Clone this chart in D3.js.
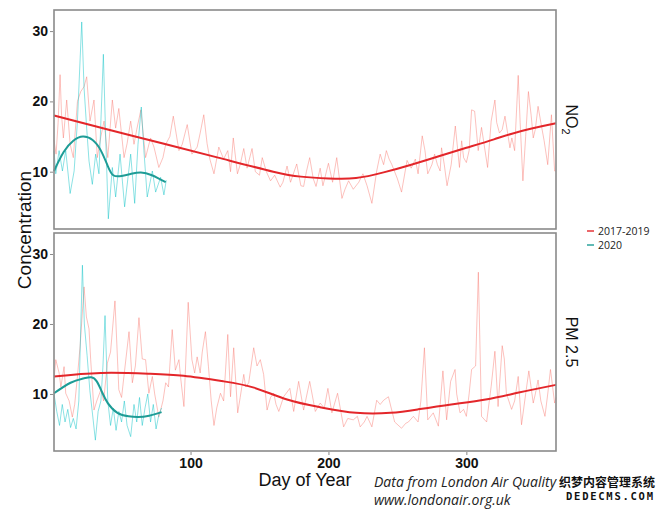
<!DOCTYPE html>
<html><head><meta charset="utf-8">
<script src="https://cdn.jsdelivr.net/npm/d3@7"></script>
<style>html,body{margin:0;padding:0;background:#fff;}svg{display:block;}</style>
</head><body>
<svg id="chart" width="666" height="509"></svg>
<script>
// ---------- DATA (day of year, concentration) ----------
const pollutants = ["NO2", "PM 2.5"];
const seriesNames = ["2017-2019", "2020"];
const xTicks = [100, 200, 300];
const yTicks = [10, 20, 30];

const no2Raw1719 = [[1,14.5],[2.5,12.5],[4,17],[5.4,23.8],[6.5,18],[7.8,14.8],[10.2,20.2],[12.7,13.9],[15,12.0],[18,20],[20.4,21.4],[22.8,22.1],[24.7,23.5],[27.1,17.2],[30,20.2],[32.4,12.0],[35,15],[37.3,17.2],[40,12],[43.3,20.2],[45.7,16.2],[48,19],[51.8,12.0],[54,14],[56.6,17.2],[59,13.9],[61,16],[64,18.8],[67.4,12],[71,14.8],[73.5,13.5],[77,10.6],[80,12],[82,13.9],[85,15],[87.5,17.9],[89.5,15.5],[91.6,13],[94,13.9],[97.6,16.7],[101,12.5],[104.8,13.5],[107,15.5],[109.6,18.1],[112,14],[114,11.8],[117,9.7],[120.5,13.5],[124,11.8],[127,13],[129,10],[131,14.8],[134,9.7],[136,11],[138.6,13.3],[141,10.5],[144.6,13.3],[147,10],[150,9.5],[152,12.0],[155,10],[158,8.7],[161,9.5],[165,7.8],[167,8.5],[170,10.8],[172.5,8.5],[177,11.1],[180,8],[182,7.9],[184,10],[186.4,12.0],[189,9],[191,7.9],[194,10.5],[196,8],[200,11.2],[203,8.5],[206,12.0],[209.8,6.2],[212,7.5],[214.6,8.7],[218,7.5],[222,8.5],[225,9.7],[228,8],[231.5,5.5],[235,10.1],[237.5,12.5],[240,11],[242,13.0],[244,11.8],[246,11.0],[250,9],[253,7.1],[257,11.6],[260,10.5],[263,11.8],[265,9.7],[268,15.1],[270,13],[272,9.7],[275,11],[277,12.5],[279,11],[281,10.1],[282,13.4],[284,11],[286,8.0],[289,11],[292,16.5],[295,10.6],[296.6,14.4],[298,12],[300,11.3],[302,13],[303.8,18.8],[306,18.6],[308.6,13.0],[311,16.3],[315.4,10.6],[318,17.2],[320.7,20.2],[322,17],[324,15.5],[326,16],[328,17.9],[331.6,13.4],[333,14.8],[335,13],[337.6,23.7],[339,17],[341,8.7],[343,15],[345,21.4],[347,18],[348.5,14.8],[350,16],[352,19.3],[354,17],[356.4,14.4],[359,11.0],[361.7,18.1],[364,10.1],[365,10.1]];

const no2Raw2020 = [[1,13],[2.3,9.7],[4.7,13],[7.1,10.1],[9.5,13],[12.7,6.9],[15.6,10.1],[18,17.2],[21.1,31.3],[22.8,21.9],[24.7,16.2],[26.4,11.5],[28.8,8.2],[31.2,12.5],[33.6,9.7],[36.8,26.7],[38.5,14.8],[40.4,3.3],[43.3,10.6],[45.7,6.4],[48.9,12.5],[52.2,5],[56.6,12.5],[59.5,5.5],[61.9,13.9],[64.3,19.2],[66.2,13],[68.6,6.4],[72.3,10.1],[74.7,7.1],[78.3,9.2],[80.7,6.7],[82.4,8.8]];

const pmRaw1719 = [[1,12],[2.3,14.9],[4.7,13],[6,11],[8.3,13.9],[9.5,10.1],[12,9],[14.3,6.7],[16,8.5],[18,12.5],[20,17],[22.8,25.3],[24.5,21],[26.4,19.3],[27.6,14.9],[30,7.7],[32,9],[35,10.6],[37,9.0],[39.7,14.4],[42,16],[45.2,23.3],[48,10.6],[50,9.5],[51.7,12.5],[55.4,18.9],[57.8,11.6],[60,14],[62.6,20.9],[65,15],[67.4,14.9],[69.8,10.1],[72.3,12.5],[74,10],[77,6.7],[80,9],[82,11.6],[84,11],[86.7,19.2],[89,13.4],[91.6,14.9],[93,12],[95.2,8.2],[98.3,23.1],[101,14.9],[103,13],[104.8,15.3],[107,13],[108.5,16],[110.8,18.9],[113,13.9],[115,9],[117,5.5],[119,8],[121.7,10.1],[124,9],[127,18.5],[129,9.6],[131.3,16.6],[134.2,7.3],[136,9.5],[138.6,12.8],[140,11],[142.2,11.6],[145.8,16.6],[148.2,14.0],[150.6,14.9],[153,12.8],[155.5,7.7],[158,9.5],[160.3,10.1],[162,8.5],[164,7.5],[167.5,9.6],[172,10.8],[174.8,7.5],[178.4,11.8],[182,7.7],[186.4,11.8],[190.5,7.5],[194,8.7],[197,8],[199.6,10.8],[202.5,7.3],[206.6,10.1],[211,5.3],[214,6.5],[218,6.3],[221,6.8],[223,5.3],[226,6],[228,6.8],[231.5,5.3],[235,9.1],[237.5,8.5],[240,9.1],[243.5,9.6],[248,6.0],[253,5.1],[256,5.8],[258,6.0],[261.6,6.8],[265,6.0],[267,9],[269.6,16.6],[272,6.3],[276,7.3],[279.7,5.4],[283,13.3],[285.7,6.3],[288.6,11.8],[291.8,13.5],[293,10],[295.4,7.3],[298,7.8],[300,6.8],[302,10],[303.8,13.5],[306.7,14.0],[308.7,27.4],[311,6.8],[314.7,6.0],[318,11.1],[320.7,16.1],[323,8.2],[326,16.9],[327.5,15],[329,10.1],[332.8,7.8],[335,9],[337.6,12.5],[340,5.6],[343,10],[345.3,13.3],[348.5,8.7],[350,10],[352,12.0],[354,9],[357,6.8],[359,10],[361,13.5],[364,8.7],[365,9.5]];

const pmRaw2020 = [[1,10.0],[3,7.5],[5,5.5],[7,8.5],[9,6.0],[11,7.8],[13,5.2],[15,6.5],[17,5.0],[19,9.0],[21.6,28.4],[23,20],[25,15.5],[27,10.5],[29,7.0],[31,3.4],[33,7.5],[35,9.0],[36.5,14],[38,21.2],[40,9.0],[42,5.5],[44,8.0],[46,4.8],[48,7.5],[50,6.0],[52,9.0],[54,5.5],[56.6,3.9],[59,8.5],[61,6.0],[63,9.5],[65,5.5],[67,8.0],[69,10.0],[71,6.0],[73,8.5],[75,5.0],[77,7.0],[79,8.0]];

// smoothed trend (loess-style fit)
const no2Trend1719 = [[1,18.0],[40,16.0],[80,14.0],[120,12.0],[160,10.0],[180,9.3],[200,9.05],[220,9.1],[240,9.9],[260,11.0],[280,12.2],[300,13.4],[320,14.6],[340,15.8],[365,16.9]];
const no2Trend2020 = [[1,10.1],[8,12.8],[15,14.4],[22,15.0],[29,14.5],[35,13.0],[40,10.8],[44,9.5],[50,9.4],[57,9.7],[64,9.9],[72,9.5],[82,8.5]];
const pmTrend1719 = [[1,12.5],[35,13.0],[70,12.9],[95,12.6],[124,11.8],[146,10.9],[170,9.2],[194,8.1],[220,7.3],[245,7.3],[265,7.8],[289,8.5],[314,9.2],[338,10.2],[365,11.3]];
const pmTrend2020 = [[1,10.1],[13,11.6],[22,12.2],[28,12.4],[32,11.8],[36,10.2],[40,8.7],[47,7.3],[55,6.8],[62,6.7],[70,6.9],[79,7.4]];

// ---------- LAYOUT ----------
const svg = d3.select("#chart");
const colRaw = ["#F8766D", "#00BFC4"];
const colTrend = ["#E3262A", "#1E9C96"];
const x = d3.scaleLinear().domain([1, 365]).range([54, 556]);
const panels = [
  {name: pollutants[0], y0: 10, y1: 229, raw: [no2Raw1719, no2Raw2020], trend: [no2Trend1719, no2Trend2020]},
  {name: pollutants[1], y0: 233, y1: 451, raw: [pmRaw1719, pmRaw2020], trend: [pmTrend1719, pmTrend2020]}
];

panels.forEach((p, i) => {
  const y = d3.scaleLinear().domain([1.85, 33.0]).range([p.y1, p.y0]);
  const g = svg.append("g");
  const rawLine = d3.line().x(d => x(d[0])).y(d => y(d[1]));
  const trendLine = d3.line().x(d => x(d[0])).y(d => y(d[1])).curve(d3.curveNatural);
  p.raw.forEach((s, k) => {
    g.append("path").datum(s).attr("d", rawLine).attr("fill", "none")
      .attr("stroke", colRaw[k]).attr("stroke-opacity", 0.45).attr("stroke-width", 1);
  });
  p.trend.forEach((s, k) => {
    g.append("path").datum(s).attr("d", trendLine).attr("fill", "none")
      .attr("stroke", colTrend[k]).attr("stroke-width", 2);
  });
  // border
  g.append("rect").attr("x", 54).attr("y", p.y0).attr("width", 502).attr("height", p.y1 - p.y0)
    .attr("fill", "none").attr("stroke", "#8a8a8a").attr("stroke-width", 1.6);
  // y axis
  const ya = g.append("g").attr("transform", "translate(53,0)")
    .call(d3.axisLeft(y).tickValues(yTicks).tickSize(3).tickPadding(2));
  ya.select(".domain").remove();
  ya.selectAll("line").attr("stroke", "#8a8a8a");
  ya.selectAll("text").attr("font-family", "Liberation Sans, Arial, sans-serif")
    .attr("font-weight", "bold").attr("font-size", 14).attr("fill", "#111");
  // strip label
  const st = g.append("text").attr("transform", `translate(566,${(p.y0 + p.y1) / 2}) rotate(90)`)
    .attr("text-anchor", "middle").attr("font-family", "Liberation Sans, Arial, sans-serif")
    .attr("font-size", 16).attr("fill", "#111");
  if (i === 0) {
    st.append("tspan").text("NO");
    st.append("tspan").text("2").attr("font-size", 11).attr("dy", 4);
  } else {
    st.text(p.name);
  }
  if (i === 1) {
    const xa = g.append("g").attr("transform", `translate(0,${p.y1 + 1})`)
      .call(d3.axisBottom(x).tickValues(xTicks).tickSize(3).tickPadding(3));
    xa.select(".domain").remove();
    xa.selectAll("line").attr("stroke", "#8a8a8a");
    xa.selectAll("text").attr("font-family", "Liberation Sans, Arial, sans-serif")
      .attr("font-weight", "bold").attr("font-size", 14).attr("fill", "#111");
  }
});

// axis titles
svg.append("text").attr("x", 305).attr("y", 486).attr("text-anchor", "middle")
  .attr("font-family", "Liberation Sans, Arial, sans-serif").attr("font-size", 18).attr("fill", "#111")
  .text("Day of Year");
svg.append("text").attr("transform", "translate(31,230) rotate(-90)").attr("text-anchor", "middle")
  .attr("font-family", "Liberation Sans, Arial, sans-serif").attr("font-size", 19).attr("fill", "#111")
  .text("Concentration");

// legend
seriesNames.forEach((n, k) => {
  const ly = 231 + k * 14;
  svg.append("line").attr("x1", 587).attr("x2", 594).attr("y1", ly).attr("y2", ly)
    .attr("stroke", colTrend[k]).attr("stroke-width", 1.4);
  svg.append("text").attr("x", 598).attr("y", ly + 4).attr("font-family", "Open Sans, sans-serif")
    .attr("font-size", 10.5).attr("fill", "#222").text(n);
});

// caption
svg.append("text").attr("x", 374).attr("y", 487).attr("font-family", "Open Sans, sans-serif")
  .attr("font-style", "italic").attr("font-size", 14).attr("fill", "#222").text("Data from London Air Quality");
svg.append("text").attr("x", 374).attr("y", 505).attr("font-family", "Open Sans, sans-serif")
  .attr("font-style", "italic").attr("font-size", 14).attr("fill", "#222").text("www.londonair.org.uk");

// watermark
svg.append("text").attr("x", 559).attr("y", 487).attr("font-family", "Noto Sans CJK SC")
  .attr("font-weight", "bold").attr("font-size", 12).attr("fill", "#111")
  .attr("stroke", "#fff").attr("stroke-width", 2).attr("paint-order", "stroke")
  .attr("textLength", 96).text("织梦内容管理系统");
svg.append("text").attr("x", 566).attr("y", 500).attr("font-family", "DejaVu Sans Mono, monospace")
  .attr("font-weight", "bold").attr("font-size", 10.5).attr("fill", "#111")
  .attr("stroke", "#fff").attr("stroke-width", 2).attr("paint-order", "stroke")
  .attr("textLength", 87).text("DEDECMS.COM");
</script>
</body></html>
